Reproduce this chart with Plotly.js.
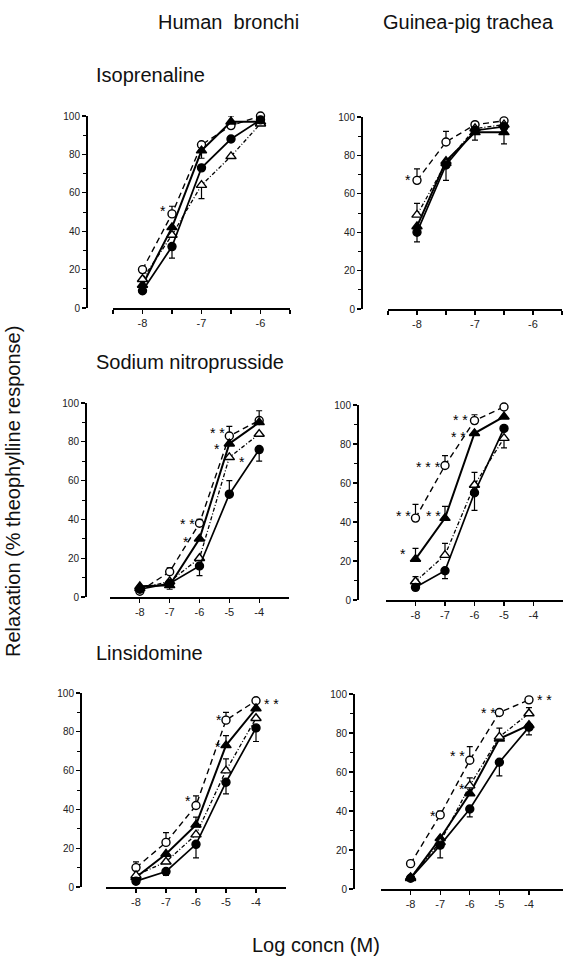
<!DOCTYPE html>
<html>
<head>
<meta charset="utf-8">
<script src="https://cdn.plot.ly/plotly-3.0.1.min.js"></script>
<style>html,body{margin:0;padding:0;background:#fff;}#chart{width:565px;height:968px;}</style>
</head>
<body>
<div id="chart"></div>
<script>
// ---------------- DATA ----------------
// Log concentrations (M)
const xIso = [-8, -7.5, -7, -6.5, -6];
const xIsoGP = [-8, -7.5, -7, -6.5];
const xSnpHB = [-8, -7, -6, -5, -4];
const xSnpGP = [-8, -7, -6, -5];
const xLinHB = [-8, -7, -6, -5, -4];
const xLinGP = [-8, -7, -6, -5, -4];

// Series: oc = open circle (dashed), ft = filled triangle (solid),
// ot = open triangle (dash-dot), fc = filled circle (solid)
// Error arrays: SEM, sign gives the side drawn (+ up, - down)
const isoHB_oc = [20, 49, 85, 95, 100];   const isoHB_oc_err = [0, 4, 0, 0, 3];
const isoHB_ft = [12, 42, 82, 97, 97];    const isoHB_ft_err = [0, 0, -4, 3, 0];
const isoHB_ot = [15, 38, 64, 79, 96];    const isoHB_ot_err = [0, 0, -7, 0, 0];
const isoHB_fc = [9, 32, 73, 88, 98];     const isoHB_fc_err = [0, -6, 0, 0, 0];

const isoGP_oc = [67, 87, 96, 98];        const isoGP_oc_err = [6, 5.5, 0, 0];
const isoGP_ft = [43, 77, 92, 92];        const isoGP_ft_err = [0, 0, 0, -6];
const isoGP_ot = [49, 76, 94, 96];        const isoGP_ot_err = [6, 0, 0, 0];
const isoGP_fc = [40, 75, 93, 95];        const isoGP_fc_err = [-5, -8, -5, 0];

const snpHB_oc = [3, 13, 38, 83, 91];     const snpHB_oc_err = [0, 2, 2, 5, 5];
const snpHB_ft = [5.5, 6, 30, 79, 90];    const snpHB_ft_err = [0, 0, 0, 0, 0];
const snpHB_ot = [4.5, 8, 20, 72, 84];    const snpHB_ot_err = [0, 0, 0, 0, 0];
const snpHB_fc = [4, 7, 16, 53, 76];      const snpHB_fc_err = [0, -3, -5, 7, -6];

const snpGP_oc = [42, 69, 92, 99];        const snpGP_oc_err = [7, 5, 3, 0];
const snpGP_ft = [21, 42, 85.5, 94];      const snpGP_ft_err = [5.5, 6, 0, 0];
const snpGP_ot = [9.5, 23, 59, 83];       const snpGP_ot_err = [2.5, 6, 6.5, -5];
const snpGP_fc = [6.5, 15, 55, 88];       const snpGP_fc_err = [0, -4, -9, 0];

const linHB_oc = [10, 23, 42, 86, 96];    const linHB_oc_err = [3, 5, 5, 4, 0];
const linHB_ft = [5, 17, 32, 73, 92];     const linHB_ft_err = [0, 0, 4, 5, 0];
const linHB_ot = [6, 13, 27, 60, 87];     const linHB_ot_err = [0, 0, 0, 6, 0];
const linHB_fc = [3, 8, 22, 54, 82];      const linHB_fc_err = [0, -2, -7, -6, -7];

const linGP_oc = [13, 38, 66, 90.5, 97];  const linGP_oc_err = [0, 2, 7, 0, 0];
const linGP_ft = [5.5, 26, 49, 77, 84];   const linGP_ft_err = [0, 0, 0, 5.5, 0];
const linGP_ot = [6, 24, 53, 78, 90];     const linGP_ot_err = [0, 0, 4, 0, 3];
const linGP_fc = [5.5, 22.5, 41, 65, 83]; const linGP_fc_err = [0, -6.5, -4, -7, -4];

// Significance marks: [logConc, value, label]
const isoHB_stars = [[-7.65, 52, '*']];
const isoGP_stars = [[-8.16, 69, '*']];
const snpHB_stars = [[-5.4, 86, '* *'], [-5.4, 78, '*'], [-4.56, 71, '*'], [-6.41, 39, '* *'], [-6.45, 30, '*']];
const snpGP_stars = [[-6.47, 94, '* *'], [-6.54, 85, '* *'], [-7.56, 70, '* * *'], [-8.42, 44.6, '* *'], [-7.39, 44.6, '* *'], [-8.42, 25, '*']];
const linHB_stars = [[-3.47, 96, '* *'], [-5.23, 87.6, '*'], [-5.27, 73.7, '*'], [-6.27, 46, '*']];
const linGP_stars = [[-3.46, 98.5, '* *'], [-5.36, 91.8, '* *'], [-6.41, 69.7, '* *'], [-6.27, 53, '*'], [-7.25, 39, '*']];

// Tick labels
const yTickVals = [0, 20, 40, 60, 80, 100];
const yTickText = ['0', '20', '40', '60', '80', '100'];
const xTickValsIso = [-8, -7, -6];
const xTickTextIso = ['-8', '-7', '-6'];
const xTickValsNO = [-8, -7, -6, -5, -4];
const xTickTextNO = ['-8', '-7', '-6', '-5', '-4'];

// Texts
const colTitles = ['Human  bronchi', 'Guinea-pig trachea'];
const rowTitles = ['Isoprenaline', 'Sodium nitroprusside', 'Linsidomine'];
const yTitle = 'Relaxation (% theophylline response)';
const xTitle = 'Log concn (M)';

// ---------------- LAYOUT GEOMETRY (pixels) ----------------
const W = 565, H = 968;
const FONT = 'Liberation Sans, Arial, Helvetica, sans-serif';
const px = v => v / W;
const py = v => 1 - v / H;

const panels = [
  {x: xIso,   s: [isoHB_oc, isoHB_ft, isoHB_ot, isoHB_fc], e: [isoHB_oc_err, isoHB_ft_err, isoHB_ot_err, isoHB_fc_err], stars: isoHB_stars,
   xb: [113, 290], yb: [116, 308], yl: 86,  range: [-8.5, -5.5], tv: xTickValsIso, tt: xTickTextIso, minor: 0.5},
  {x: xIsoGP, s: [isoGP_oc, isoGP_ft, isoGP_ot, isoGP_fc], e: [isoGP_oc_err, isoGP_ft_err, isoGP_ot_err, isoGP_fc_err], stars: isoGP_stars,
   xb: [388, 562], yb: [117, 309], yl: 361, range: [-8.5, -5.5], tv: xTickValsIso, tt: xTickTextIso, minor: 0.5},
  {x: xSnpHB, s: [snpHB_oc, snpHB_ft, snpHB_ot, snpHB_fc], e: [snpHB_oc_err, snpHB_ft_err, snpHB_ot_err, snpHB_fc_err], stars: snpHB_stars,
   xb: [110, 289], yb: [403, 597], yl: 85,  range: [-9, -3], tv: xTickValsNO, tt: xTickTextNO, minor: 0},
  {x: xSnpGP, s: [snpGP_oc, snpGP_ft, snpGP_ot, snpGP_fc], e: [snpGP_oc_err, snpGP_ft_err, snpGP_ot_err, snpGP_fc_err], stars: snpGP_stars,
   xb: [386, 563], yb: [405, 600], yl: 357, range: [-9, -3], tv: xTickValsNO, tt: xTickTextNO, minor: 0},
  {x: xLinHB, s: [linHB_oc, linHB_ft, linHB_ot, linHB_fc], e: [linHB_oc_err, linHB_ft_err, linHB_ot_err, linHB_fc_err], stars: linHB_stars,
   xb: [106, 286], yb: [693, 887], yl: 80,  range: [-9, -3], tv: xTickValsNO, tt: xTickTextNO, minor: 0},
  {x: xLinGP, s: [linGP_oc, linGP_ft, linGP_ot, linGP_fc], e: [linGP_oc_err, linGP_ft_err, linGP_ot_err, linGP_fc_err], stars: linGP_stars,
   xb: [381, 563], yb: [694, 889], yl: 353, range: [-9, -2.85], tv: xTickValsNO, tt: xTickTextNO, minor: 0}
];

const styles = [
  {symbol: 'circle', fill: '#fff', dash: '6px,4px', lw: 1.4},
  {symbol: 'triangle-up', fill: '#000', dash: 'solid', lw: 2},
  {symbol: 'triangle-up', fill: '#fff', dash: '4px,2px,1px,2px', lw: 1.3},
  {symbol: 'circle', fill: '#000', dash: 'solid', lw: 1.7}
];

const data = [];
const layout = {
  width: W, height: H,
  margin: {l: 0, r: 0, t: 0, b: 0},
  paper_bgcolor: '#fff', plot_bgcolor: 'rgba(0,0,0,0)',
  showlegend: false,
  font: {family: FONT, color: '#111', size: 11},
  annotations: []
};

panels.forEach((p, i) => {
  const n = i + 1;
  const xa = 'xaxis' + (n === 1 ? '' : n), ya = 'yaxis' + (n === 1 ? '' : n);
  const xr = 'x' + (n === 1 ? '' : n), yr = 'y' + (n === 1 ? '' : n);
  layout[xa] = {
    domain: [px(p.xb[0]), px(p.xb[1])], anchor: yr, range: p.range,
    showline: true, linecolor: '#000', linewidth: 1.7, showgrid: false, zeroline: false,
    ticks: 'outside', ticklen: 4, tickwidth: 1.2, tickcolor: '#000',
    tickmode: 'array', tickvals: p.tv, ticktext: p.tt,
    tickfont: {family: FONT, size: 11, color: '#222'},
    minor: p.minor ? {dtick: p.minor, tick0: -8, ticks: 'outside', ticklen: 4, tickwidth: 1.2, tickcolor: '#000', showgrid: false} : undefined,
    fixedrange: true
  };
  layout[ya] = {
    domain: [py(p.yb[1]), py(p.yb[0])], anchor: 'free', position: px(p.yl), range: [0, 100],
    showline: true, linecolor: '#000', linewidth: 1.7, showgrid: false, zeroline: false,
    ticks: 'outside', ticklen: 4, tickwidth: 1.2, tickcolor: '#000',
    tickmode: 'array', tickvals: yTickVals, ticktext: yTickText,
    tickfont: {family: FONT, size: 10, color: '#222'},
    minor: {dtick: 10, ticks: 'outside', ticklen: 3, tickwidth: 1, tickcolor: '#000', showgrid: false},
    fixedrange: true
  };
  p.s.forEach((ys, k) => {
    const st = styles[k];
    const err = p.e[k];
    data.push({
      type: 'scatter', mode: 'lines+markers', xaxis: xr, yaxis: yr,
      x: p.x, y: ys, cliponaxis: false,
      line: {color: '#000', width: st.lw, dash: st.dash},
      marker: {symbol: st.symbol, size: st.symbol === 'circle' ? 8 : 9, color: st.fill, line: {color: '#000', width: 1.4}},
      error_y: {type: 'data', symmetric: false,
        array: err.map(v => v > 0 ? v : 0), arrayminus: err.map(v => v < 0 ? -v : 0),
        color: '#000', thickness: 1.2, width: 3, visible: true}
    });
  });
  p.stars.forEach(s => {
    layout.annotations.push({xref: xr, yref: yr, x: s[0], y: s[1], text: s[2], showarrow: false,
      font: {family: FONT, size: 14, color: '#000'}, xanchor: 'center', yanchor: 'middle', yshift: -3});
  });
});

// Column titles
layout.annotations.push({xref: 'paper', yref: 'paper', x: px(228), y: py(22), text: colTitles[0], showarrow: false,
  font: {family: FONT, size: 20, color: '#111'}, xanchor: 'center', yanchor: 'middle'});
layout.annotations.push({xref: 'paper', yref: 'paper', x: px(468), y: py(22), text: colTitles[1], showarrow: false,
  font: {family: FONT, size: 20, color: '#111'}, xanchor: 'center', yanchor: 'middle'});
// Row titles
const rowY = [75, 362, 653];
rowTitles.forEach((t, i) => {
  layout.annotations.push({xref: 'paper', yref: 'paper', x: px(94), y: py(rowY[i]), text: t, showarrow: false,
    font: {family: FONT, size: 20, color: '#111'}, xanchor: 'left', yanchor: 'middle'});
});
// Axis titles
layout.annotations.push({xref: 'paper', yref: 'paper', x: px(13), y: py(492), text: yTitle, showarrow: false, textangle: -90,
  font: {family: FONT, size: 20, color: '#111'}, xanchor: 'center', yanchor: 'middle'});
layout.annotations.push({xref: 'paper', yref: 'paper', x: px(316), y: py(945), text: xTitle, showarrow: false,
  font: {family: FONT, size: 20, color: '#111'}, xanchor: 'center', yanchor: 'middle'});

Plotly.newPlot('chart', data, layout, {staticPlot: true, displayModeBar: false});
</script>
</body>
</html>
